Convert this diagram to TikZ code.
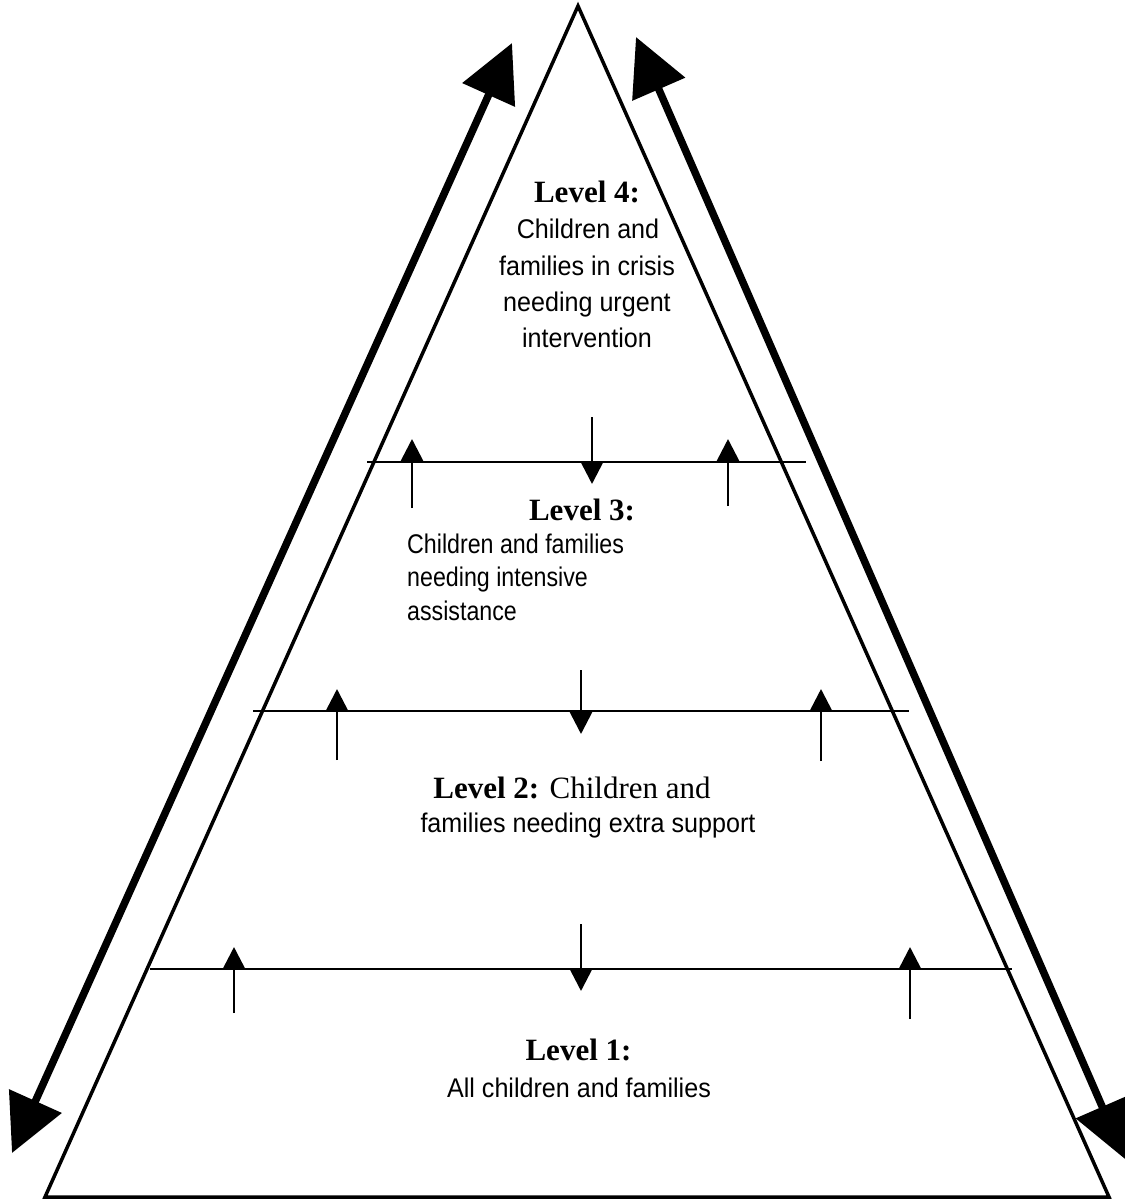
\documentclass[tikz,border=0pt]{standalone}
\usepackage{fontspec}
\setmainfont{Liberation Serif}
\newfontfamily\sansA[FakeStretch=0.93]{Liberation Sans}
\newfontfamily\sansB[FakeStretch=0.86]{Liberation Sans}
\usetikzlibrary{arrows.meta}
\tikzset{
  edge/.style={line width=3.5pt, line join=miter},
  divider/.style={line width=2.8pt},
  flow/.style={line width=2.7pt, -{Triangle[length=22pt,width=22pt]}},
  bigflow/.style={line width=7.5pt, {Triangle[length=57pt,width=56pt]}-{Triangle[length=57pt,width=56pt]}},
  head/.style={font=\bfseries\fontsize{31}{37}\selectfont, anchor=base, inner sep=0pt},
  body/.style={font=\sansA\fontsize{27}{33}\selectfont, anchor=base, inner sep=0pt},
  bodyB/.style={font=\sansB\fontsize{27}{33}\selectfont, anchor=base west, inner sep=0pt},
}
\begin{document}
\begin{tikzpicture}[x=1pt, y=-1pt]
\useasboundingbox (0,0) rectangle (1124,1201);
\fill[white] (0,0) rectangle (1124,1201);

% pyramid
\coordinate (apex) at (578,6);
\coordinate (bl) at (45,1197);
\coordinate (br) at (1109,1197);
\draw[edge] (apex) -- (bl) -- (br) -- cycle;

% side arrows
\coordinate (Lbot) at (12,1153);
\coordinate (Ltop) at (512,43);
\coordinate (Rtop) at (636,37);
\coordinate (Rbot) at (1125,1159);
\draw[bigflow] (Lbot) -- (Ltop);
\draw[bigflow] (Rtop) -- (Rbot);

% dividers
\coordinate (d3l) at (367,462); \coordinate (d3r) at (806,462);
\coordinate (d2l) at (253,711); \coordinate (d2r) at (909,711);
\coordinate (d1l) at (150,969); \coordinate (d1r) at (1012,969);
\draw[divider] (d3l) -- (d3r);
\draw[divider] (d2l) -- (d2r);
\draw[divider] (d1l) -- (d1r);

% small arrows, level 3/4
\coordinate (a1s) at (412,508); \coordinate (a1t) at (412,439);
\coordinate (a2s) at (592,417); \coordinate (a2t) at (592,484);
\coordinate (a3s) at (728,506); \coordinate (a3t) at (728,439);
\draw[flow] (a1s) -- (a1t);
\draw[flow] (a2s) -- (a2t);
\draw[flow] (a3s) -- (a3t);
% level 2/3
\coordinate (b1s) at (337,760); \coordinate (b1t) at (337,689);
\coordinate (b2s) at (581,670); \coordinate (b2t) at (581,734);
\coordinate (b3s) at (821,761); \coordinate (b3t) at (821,689);
\draw[flow] (b1s) -- (b1t);
\draw[flow] (b2s) -- (b2t);
\draw[flow] (b3s) -- (b3t);
% level 1/2
\coordinate (c1s) at (234,1013); \coordinate (c1t) at (234,947);
\coordinate (c2s) at (581,924); \coordinate (c2t) at (581,991);
\coordinate (c3s) at (910,1019); \coordinate (c3t) at (910,947);
\draw[flow] (c1s) -- (c1t);
\draw[flow] (c2s) -- (c2t);
\draw[flow] (c3s) -- (c3t);

% Level 4 text
\node[head] (l4h) at (587,202) {Level 4:};
\node[body] (l4a) at (588,238) {Children and};
\node[body] (l4b) at (587,275) {families in crisis};
\node[body] (l4c) at (587,311) {needing urgent};
\node[body] (l4d) at (587,347) {intervention};

% Level 3 text
\node[head] (l3h) at (582,520) {Level 3:};
\node[bodyB] (l3a) at (407,553) {Children and families};
\node[bodyB] (l3b) at (407,586) {needing intensive};
\node[bodyB] (l3c) at (407,620) {assistance};

% Level 2 text
\node[anchor=base, inner sep=0pt, font=\fontsize{31}{37}\selectfont] (l2h) at (572,798) {\textbf{Level 2:} Children and};
\node[body] (l2a) at (588,832) {families needing extra support};

% Level 1 text
\node[head] (l1h) at (578.5,1060) {Level 1:};
\node[body] (l1a) at (579,1097) {All children and families};
\end{tikzpicture}
\end{document}
